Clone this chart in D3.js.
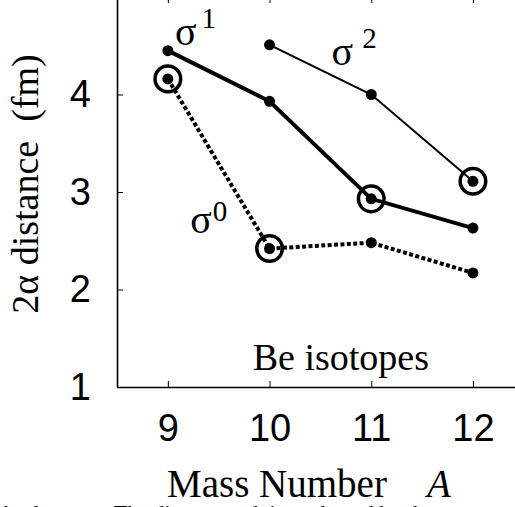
<!DOCTYPE html>
<html>
<head>
<meta charset="utf-8">
<script src="https://cdn.jsdelivr.net/npm/d3@7"></script>
<style>
  html, body { margin: 0; padding: 0; background: #fff; }
  svg { display: block; }
  .tick text { font-family: "Liberation Sans", Arial, sans-serif; }
</style>
</head>
<body>
<svg id="chart" width="515" height="507"></svg>
<script>
// mass numbers of the Be isotopes
const massNumbers = [9, 10, 11, 12];

// 2-alpha distance (fm) for each configuration
const sigma0 = [4.16, 2.42, 2.48, 2.17];
const sigma1 = [4.45, 3.93, 2.93, 2.63];
const sigma2 = [null, 4.51, 4.00, 3.11];

// which points get an extra ring (ground state)
const ringed = [
  { a: 9, d: 4.16 },
  { a: 10, d: 2.42 },
  { a: 11, d: 2.93 },
  { a: 12, d: 3.11 }
];

const yTicks = [1, 2, 3, 4];

const svg = d3.select('#chart');

// plot box: the top and right edges sit just outside the picture
const x = d3.scaleLinear().domain([8.5, 12.5]).range([117, 523.8]);
const y = d3.scaleLinear().domain([1, 5]).range([387, -3]);

// left axis, ticks pointing in
const yAxis = svg.append('g')
  .attr('transform', `translate(${x(8.5)},0)`)
  .call(d3.axisLeft(y).tickValues(yTicks).tickSize(-6).tickPadding(26).tickFormat(d3.format('d')));

// bottom axis
const xAxis = svg.append('g')
  .attr('transform', `translate(0,${y(1)})`)
  .call(d3.axisBottom(x).tickValues(massNumbers).tickSize(-6).tickPadding(27).tickFormat(d3.format('d')));

// top axis: only the little ticks show
svg.append('g')
  .attr('transform', `translate(0,${y(5)})`)
  .call(d3.axisTop(x).tickValues(massNumbers).tickSize(-6).tickFormat(''))
  .select('.domain').remove();

[yAxis, xAxis].forEach(g => {
  g.selectAll('.domain').attr('stroke', '#000').attr('stroke-width', 1.6);
  g.selectAll('.tick line').attr('stroke', '#000').attr('stroke-width', 1);
  g.selectAll('.tick text').attr('font-size', 38).attr('fill', '#000');
});
xAxis.select('.domain').attr('d', `M${x(8.5)},0.5H${x(12.5)}`);
yAxis.select('.domain').attr('d', `M0.5,${y(1)}V${y(5)}`);

const line = d3.line()
  .defined(d => d[1] != null)
  .x(d => x(d[0]))
  .y(d => y(d[1]));

const series = [
  { values: sigma0, width: 4, dash: '4,2.4' },
  { values: sigma1, width: 4, dash: null },
  { values: sigma2, width: 2, dash: null }
];

series.forEach(s => {
  const pts = massNumbers.map((a, i) => [a, s.values[i]]);
  svg.append('path')
    .datum(pts)
    .attr('d', line)
    .attr('fill', 'none')
    .attr('stroke', '#000')
    .attr('stroke-width', s.width)
    .attr('stroke-dasharray', s.dash);

  svg.append('g')
    .selectAll('circle')
    .data(pts.filter(p => p[1] != null))
    .join('circle')
    .attr('cx', d => x(d[0]))
    .attr('cy', d => y(d[1]))
    .attr('r', 5.5)
    .attr('fill', '#000');
});

// open rings around the ground states
svg.append('g')
  .selectAll('circle')
  .data(ringed)
  .join('circle')
  .attr('cx', d => x(d.a))
  .attr('cy', d => y(d.d))
  .attr('r', 12.8)
  .attr('fill', 'none')
  .attr('stroke', '#000')
  .attr('stroke-width', 3.5);

// sigma labels, anchored in data units
const sigmaLabels = [
  { a: 9.07, d: 4.51, sup: '1', gap: 5, rise: 17 },
  { a: 10.61, d: 4.30, sup: '2', gap: 9, rise: 17 },
  { a: 9.22, d: 2.58, sup: '0', gap: 1, rise: 12 }
];

const serif = '"Liberation Serif", "Times New Roman", serif';

sigmaLabels.forEach(l => {
  const t = svg.append('text')
    .attr('x', x(l.a))
    .attr('y', y(l.d))
    .attr('font-family', serif)
    .attr('font-size', 40)
    .attr('fill', '#000')
    .text('σ');
  t.append('tspan')
    .attr('dx', l.gap)
    .attr('dy', -l.rise)
    .attr('font-size', 29)
    .text(l.sup);
});

svg.append('text')
  .attr('x', (x(9) + x(12.5)) / 2 - 5)
  .attr('y', 370)
  .attr('text-anchor', 'middle')
  .attr('font-family', serif)
  .attr('font-size', 38)
  .attr('fill', '#000')
  .text('Be isotopes');

// axis titles
svg.append('text')
  .attr('transform', 'translate(38,184) rotate(-90)')
  .attr('text-anchor', 'middle')
  .attr('font-family', serif)
  .attr('font-size', 38)
  .attr('fill', '#000')
  .attr('xml:space', 'preserve')
  .text('2α distance  (fm)');

svg.append('text')
  .attr('x', 167)
  .attr('y', 497)
  .attr('font-family', serif)
  .attr('font-size', 39)
  .attr('fill', '#000')
  .text('Mass Number');
svg.append('text')
  .attr('x', 427)
  .attr('y', 497)
  .attr('font-family', serif)
  .attr('font-size', 39)
  .attr('font-style', 'italic')
  .attr('fill', '#000')
  .text('A');

// caption of the page below, cut off by the crop
svg.append('text')
  .attr('x', -2)
  .attr('y', 520)
  .attr('font-family', serif)
  .attr('font-size', 22)
  .attr('fill', '#000')
  .attr('xml:space', 'preserve')
  .text('A  cluster.     The distance    d  is evaluated by the');
</script>
</body>
</html>
